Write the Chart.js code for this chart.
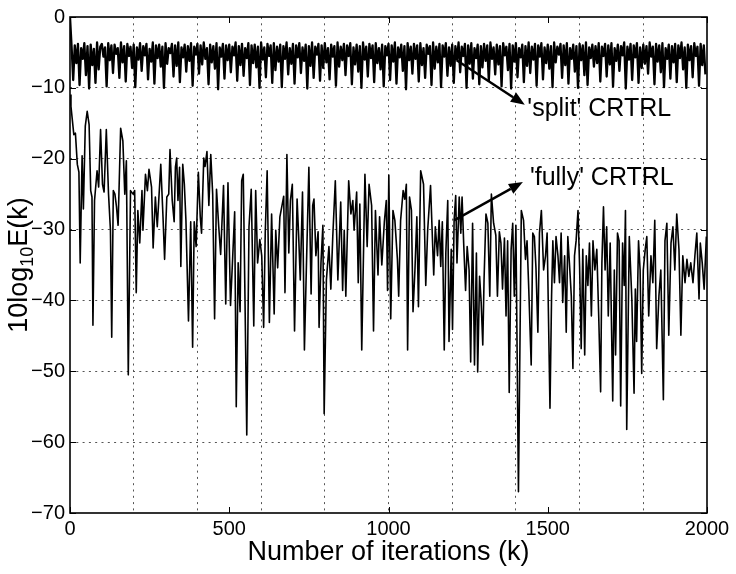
<!DOCTYPE html>
<html>
<head>
<meta charset="utf-8">
<script src="https://cdn.jsdelivr.net/npm/chart.js@4.4.1/dist/chart.umd.min.js"></script>
<style>
  html, body { margin: 0; padding: 0; background: #fff; }
</style>
</head>
<body>
<canvas id="chart" width="736" height="574"></canvas>
<script>
// 'split' CRTRL, one value every 5 iterations (k = 0, 5, 10, ...)
var splitStep = 5;
var splitDb = [
  0, -4.2, -8.9, -4.0, -6.5, -3.8, -9.6, -4.4, -5.9, -3.7, -8.2, -4.1, -10.1, -3.9, -6.8, -4.5, -9.3, -3.6, -7.4, -4.2,
  -3.8, -5.6, -4.3, -9.8, -3.7, -6.1, -4.0, -7.9, -3.9, -5.2, -4.4, -8.6, -3.6, -6.4, -4.1, -9.1, -3.8, -5.5, -4.2, -7.2,
  -3.9, -9.9, -4.3, -6.0, -3.7, -7.6, -4.1, -5.4, -3.8, -8.8, -4.5, -6.3, -3.6, -9.4, -4.0, -5.8, -3.9, -7.0, -4.2, -10.0,
  -3.7, -6.6, -4.4, -5.1, -3.8, -8.4, -4.0, -6.9, -3.6, -9.2, -4.3, -5.7, -3.9, -7.7, -4.1, -6.2, -3.7, -9.7, -4.2, -5.3,
  -3.8, -8.0, -4.0, -6.7, -3.6, -5.9, -4.4, -9.5, -3.9, -6.4, -4.1, -7.3, -3.7, -10.2, -4.3, -5.6, -3.8, -8.7, -4.0, -6.1,
  -3.9, -7.8, -4.2, -5.4, -3.6, -9.0, -4.1, -6.8, -3.8, -8.3, -4.4, -5.8, -3.7, -9.6, -4.0, -6.5, -3.9, -7.1, -4.2, -10.0,
  -3.6, -6.0, -4.3, -8.5, -3.8, -5.5, -4.0, -9.3, -3.7, -7.5, -4.2, -6.3, -3.9, -9.9, -4.1, -5.9, -3.6, -8.1, -4.4, -6.6,
  -3.8, -9.4, -4.0, -5.7, -3.7, -7.9, -4.3, -6.2, -3.9, -10.1, -4.1, -6.9, -3.6, -8.6, -4.2, -5.3, -3.8, -9.0, -4.0, -7.2,
  -3.7, -6.4, -4.4, -8.8, -3.9, -5.6, -4.1, -9.7, -3.6, -7.0, -4.2, -6.1, -3.8, -8.2, -4.0, -5.5, -3.7, -9.5, -4.3, -6.7,
  -3.9, -7.7, -4.1, -10.0, -3.6, -6.0, -4.2, -8.4, -3.8, -5.8, -4.0, -9.2, -3.7, -6.5, -4.4, -7.4, -3.9, -9.8, -4.1, -5.4,
  -3.8, -8.9, -4.0, -6.3, -3.6, -9.4, -4.3, -5.7, -3.9, -7.6, -4.1, -10.2, -3.7, -6.1, -4.2, -8.0, -3.8, -5.9, -4.0, -9.1,
  -3.7, -6.8, -4.4, -8.6, -3.9, -5.2, -4.1, -9.6, -3.6, -7.3, -4.2, -6.4, -3.8, -9.9, -4.0, -5.6, -3.7, -8.3, -4.3, -6.9,
  -3.9, -9.3, -4.1, -6.0, -3.6, -7.8, -4.2, -5.5, -3.8, -10.0, -4.0, -6.6, -3.7, -8.7, -4.4, -5.8, -3.9, -9.5, -4.1, -7.1,
  -3.8, -6.2, -4.0, -9.0, -3.6, -5.9, -4.3, -8.1, -3.9, -6.7, -4.1, -9.8, -3.7, -5.4, -4.2, -7.5, -3.8, -10.1, -4.0, -6.3,
  -3.7, -8.5, -4.4, -5.7, -3.9, -9.2, -4.1, -6.9, -3.6, -7.9, -4.2, -6.0, -3.8, -9.7, -4.0, -5.6, -3.7, -8.8, -4.3, -6.5,
  -3.9, -7.3, -4.1, -9.9, -3.6, -6.4, -4.2, -5.3, -3.8, -8.6, -4.0, -6.8, -3.7, -9.4, -4.4, -5.9, -3.9, -7.7, -4.1, -10.0,
  -3.8, -6.1, -4.0, -8.2, -3.6, -9.6, -4.3, -5.8, -3.9, -7.0, -4.1, -6.5, -3.7, -9.1, -4.2, -5.5, -3.8, -8.4, -4.0, -6.7,
  -3.7, -9.8, -4.4, -6.2, -3.9, -7.6, -4.1, -5.4, -3.6, -10.1, -4.2, -6.0, -3.8, -8.9, -4.0, -5.7, -3.7, -9.3, -4.3, -7.2,
  -3.9, -6.6, -4.1, -8.0, -3.6, -5.6, -4.2, -9.5, -3.8, -6.3, -4.0, -7.8, -3.7, -9.9, -4.4, -5.9, -3.9, -8.7, -4.1, -6.4,
  -3.8, -9.2, -4.0, -5.8, -3.6, -7.4, -4.3, -10.0, -3.9, -6.1, -4.1, -8.5, -3.7, -5.5, -4.2, -9.7, -3.8, -6.8, -4.0, -8.1
];

// 'fully' CRTRL, iteration numbers and values
var fullyIter = [
  0, 3, 12, 17, 23, 28, 32, 38, 42, 48, 54, 60, 65, 69, 72, 77, 85, 90, 96, 102,
  107, 114, 121, 127, 131, 136, 141, 146, 151, 159, 166, 172, 177, 183, 190, 198, 203, 208, 213, 219,
  226, 229, 237, 243, 248, 256, 261, 268, 274, 285, 292, 297, 304, 310, 314, 321, 327, 331, 335, 339,
  344, 348, 354, 359, 364, 372, 379, 385, 390, 396, 403, 409, 413, 420, 424, 430, 436, 442, 448, 454,
  460, 467, 473, 482, 489, 496, 504, 511, 517, 522, 528, 534, 539, 544, 549, 555, 562, 569, 577, 583,
  589, 596, 602, 608, 613, 619, 626, 633, 641, 646, 652, 659, 666, 671, 675, 681, 687, 692, 698, 705,
  713, 718, 723, 730, 736, 742, 750, 757, 762, 766, 772, 779, 782, 788, 794, 798, 805, 813, 819, 825,
  833, 841, 850, 856, 861, 866, 875, 882, 888, 892, 900, 905, 910, 916, 926, 933, 939, 947, 953, 959,
  967, 972, 979, 987, 993, 997, 1001, 1007, 1014, 1020, 1028, 1032, 1038, 1046, 1051, 1056, 1060, 1066, 1072, 1077,
  1083, 1089, 1094, 1101, 1110, 1117, 1123, 1132, 1138, 1142, 1147, 1154, 1159, 1164, 1169, 1175, 1180, 1186, 1190, 1197,
  1201, 1206, 1211, 1215, 1222, 1227, 1231, 1236, 1242, 1247, 1253, 1258, 1264, 1270, 1276, 1280, 1286, 1291, 1296, 1300,
  1306, 1312, 1318, 1323, 1330, 1337, 1342, 1348, 1353, 1358, 1364, 1369, 1374, 1379, 1385, 1390, 1395, 1400, 1408, 1417,
  1424, 1430, 1435, 1440, 1448, 1453, 1458, 1463, 1469, 1474, 1480, 1487, 1493, 1498, 1507, 1512, 1516, 1521, 1526, 1532,
  1537, 1542, 1547, 1553, 1558, 1563, 1568, 1574, 1579, 1584, 1589, 1595, 1600, 1605, 1610, 1616, 1621, 1626, 1631, 1637,
  1642, 1648, 1654, 1660, 1666, 1670, 1675, 1680, 1685, 1690, 1696, 1704, 1709, 1713, 1719, 1724, 1729, 1735, 1740, 1744,
  1748, 1756, 1764, 1771, 1775, 1779, 1785, 1790, 1795, 1800, 1806, 1811, 1817, 1824, 1830, 1836, 1842, 1849, 1855, 1863,
  1868, 1874, 1880, 1887, 1893, 1899, 1905, 1912, 1918, 1924, 1931, 1937, 1943, 1949, 1956, 1962, 1968, 1975, 1979, 1985,
  1991, 1998
];
var fullyDb = [
  -11, -12.6, -16.6, -16.4, -20.8, -21.9, -34.7, -19.6, -27.1, -15.4, -13.3, -15.2, -24.5, -25.4, -43.5, -25.9, -21.7, -24, -15.9, -23.6,
  -24.7, -15.9, -25, -30.1, -45.2, -24.5, -25, -26.8, -29.4, -15.7, -17.5, -25, -20.3, -50.5, -24.5, -25, -24.5, -38.9, -27.3, -31.9,
  -24.5, -30.1, -22.2, -24.5, -21.5, -24, -32.6, -25.4, -29.6, -20.8, -28.2, -34.2, -25.4, -25, -18.7, -25.9, -28.9, -21.2, -19.9, -25.9,
  -21.2, -35.2, -20.8, -23.6, -28.7, -42.9, -28.9, -46.6, -28.9, -32.4, -21.9, -28.2, -30.5, -19.9, -21.1, -19, -26.6, -19.4, -25, -42.6,
  -24.3, -29.6, -33.5, -23.8, -40.5, -23.4, -40.7, -33.7, -27.5, -55, -34.7, -41.6, -23.1, -22.2, -38.4, -59, -29.6, -24.3, -43.6, -24.5,
  -34.7, -31.4, -33.7, -43.8, -30.5, -21.7, -43.1, -27.8, -41.9, -30.1, -35.4, -28.2, -26.5, -25.3, -38.9, -19.4, -33.3, -25.9, -23.6, -44.3,
  -25.7, -31, -37.1, -24.7, -47, -35.7, -21.2, -39.1, -26.6, -25.7, -33.7, -30.3, -43.8, -34.7, -29.4, -56, -37.1, -32.4, -38.4, -31,
  -23.1, -37.1, -26.1, -38.6, -30.1, -39.4, -23.1, -27.8, -25.9, -30.1, -24.7, -37.5, -26.4, -47, -22.2, -32.4, -23.6, -26.6, -44.3, -27.3,
  -36.4, -28.2, -35, -28.9, -25.9, -38.6, -22.3, -42.6, -27.3, -28.7, -34.2, -39.4, -28.7, -24.5, -25.7, -23.6, -47, -25.4, -27.3, -41.6,
  -35.7, -28.2, -40.9, -21.7, -23.6, -37.9, -30.1, -23.8, -31.4, -36.4, -29.6, -33.7, -28.7, -35.2, -28.9, -47, -33.3, -25.9, -45.8, -32.8,
  -44.1, -28.7, -25.2, -34.7, -25.4, -30.5, -25.4, -31.9, -38.6, -32.4, -35.7, -48.7, -29.1, -49.1, -33.3, -50.1, -36.6, -40.3, -46.3, -37.1,
  -27.8, -29.1, -39.4, -25, -29.1, -30.8, -39.4, -30.3, -31.9, -38.4, -31.2, -42.2, -31.6, -53, -32.8, -29.1, -39.4, -29.4, -67, -27.3,
  -28.7, -34.2, -31.6, -37.9, -49.1, -30.5, -31, -35.4, -44.5, -30.5, -27.3, -35.7, -33.7, -30.5, -55.2, -39.4, -31.6, -37.5, -31, -33.7,
  -37.5, -30.5, -40.3, -33.7, -44.5, -31, -34.7, -39.4, -49.6, -33.7, -31.6, -27.3, -35.2, -46.8, -32.8, -47.7, -33.7, -37.9, -31.9, -42.2,
  -31.6, -35.7, -32.8, -42.2, -52.9, -34.7, -26.8, -35.7, -29.6, -42.2, -31.9, -54.2, -35.7, -47.7, -30.5, -31.6, -54.9, -31.9, -37.9, -27.3,
  -58.2, -31, -39.8, -53.1, -38.4, -45.8, -31.6, -35.7, -50.3, -35.7, -32.8, -31, -42.2, -33.7, -37.5, -28.7, -46.8, -39.4, -35.7, -54,
  -31.6, -29.1, -44.9, -31.9, -29.6, -35.7, -27.8, -32.8, -44.9, -33.7, -37.5, -34.2, -36.6, -34.7, -37.5, -33.7, -30.5, -39.8, -31.9, -34.7,
  -38.4, -31
];

// axes
var xMin = 0, xMax = 2000;
var yMin = -70, yMax = 0;
var xLabelTicks = [0, 500, 1000, 1500, 2000];
var xGridTicks = [200, 400, 600, 800, 1000, 1200, 1400, 1600, 1800];
var yTicks = [-70, -60, -50, -40, -30, -20, -10, 0];

// annotations: [text, text k, text dB, arrow from k, from dB, arrow to k, to dB]
var notes = [
  ["'split' CRTRL", 1436, -13.0, 1214, -6.1, 1428, -12.4],
  ["'fully' CRTRL", 1444, -22.7, 1206, -28.7, 1422, -23.3]
];

var FONT = "'Liberation Sans', Arial, Helvetica, sans-serif";

var splitPoints = splitDb.map(function (v, i) { return { x: i * splitStep, y: v }; });
var fullyPoints = fullyIter.map(function (k, i) { return { x: k, y: fullyDb[i] }; });

function fmt(v) {
  return v < 0 ? '\u2212' + Math.abs(v) : String(v);
}

var gridColor = '#555';

var overlay = {
  id: 'overlay',
  afterDraw: function (chart) {
    var ctx = chart.ctx, a = chart.chartArea, xs = chart.scales.x, ys = chart.scales.y;
    ctx.save();

    // inward tick marks, matlab style
    ctx.strokeStyle = '#000';
    ctx.lineWidth = 1;
    ctx.beginPath();
    xLabelTicks.forEach(function (v) {
      var px = Math.round(xs.getPixelForValue(v)) + 0.5;
      ctx.moveTo(px, a.bottom); ctx.lineTo(px, a.bottom - 6);
      ctx.moveTo(px, a.top); ctx.lineTo(px, a.top + 6);
    });
    yTicks.forEach(function (v) {
      var py = Math.round(ys.getPixelForValue(v)) + 0.5;
      ctx.moveTo(a.left, py); ctx.lineTo(a.left + 6, py);
      ctx.moveTo(a.right, py); ctx.lineTo(a.right - 6, py);
    });
    ctx.stroke();

    // box
    ctx.lineWidth = 1.6;
    ctx.strokeRect(a.left, a.top, a.right - a.left, a.bottom - a.top);

    // arrows + labels
    ctx.fillStyle = '#000';
    ctx.lineWidth = 2.4;
    notes.forEach(function (n) {
      var x0 = xs.getPixelForValue(n[3]), y0 = ys.getPixelForValue(n[4]);
      var x1 = xs.getPixelForValue(n[5]), y1 = ys.getPixelForValue(n[6]);
      var ang = Math.atan2(y1 - y0, x1 - x0);
      var len = 14, hw = 5.5;
      var bx = x1 - len * Math.cos(ang), by = y1 - len * Math.sin(ang);
      ctx.beginPath();
      ctx.moveTo(x0, y0); ctx.lineTo(bx, by);
      ctx.stroke();
      ctx.beginPath();
      ctx.moveTo(x1, y1);
      ctx.lineTo(bx + hw * Math.sin(ang), by - hw * Math.cos(ang));
      ctx.lineTo(bx - hw * Math.sin(ang), by + hw * Math.cos(ang));
      ctx.closePath();
      ctx.fill();

      ctx.font = '25px ' + FONT;
      ctx.textAlign = 'left';
      ctx.textBaseline = 'middle';
      ctx.fillText(n[0], xs.getPixelForValue(n[1]), ys.getPixelForValue(n[2]));
    });

    // y axis title with subscript
    var big = '27px ' + FONT, small = '18px ' + FONT;
    ctx.font = big;
    var w1 = ctx.measureText('10log').width;
    var w3 = ctx.measureText('E(k)').width;
    ctx.font = small;
    var w2 = ctx.measureText('10').width;
    var total = w1 + w2 + w3;
    ctx.translate(27, (a.top + a.bottom) / 2);
    ctx.rotate(-Math.PI / 2);
    ctx.textAlign = 'left';
    ctx.textBaseline = 'alphabetic';
    var sx = -total / 2;
    ctx.font = big;
    ctx.fillText('10log', sx, 0);
    ctx.font = small;
    ctx.fillText('10', sx + w1, 6);
    ctx.font = big;
    ctx.fillText('E(k)', sx + w1 + w2, 0);

    ctx.restore();
  }
};

var config = {
  type: 'line',
  data: {
    datasets: [{
      label: "'fully' CRTRL",
      data: fullyPoints,
      borderColor: '#000',
      borderWidth: 1.6,
      pointRadius: 0,
      tension: 0,
      borderJoinStyle: 'round'
    }, {
      label: "'split' CRTRL",
      data: splitPoints,
      borderColor: '#000',
      borderWidth: 2.3,
      pointRadius: 0,
      tension: 0,
      borderJoinStyle: 'round'
    }]
  },
  options: {
    responsive: false,
    animation: false,
    devicePixelRatio: 1,
    layout: { padding: { left: 0, right: 29, top: 11, bottom: 0 } },
    plugins: {
      legend: { display: false },
      tooltip: { enabled: false }
    },
    scales: {
      x: {
        type: 'linear',
        min: xMin,
        max: xMax,
        afterBuildTicks: function (s) {
          var all = xLabelTicks.concat(xGridTicks).filter(function (v, i, arr) { return arr.indexOf(v) === i; });
          all.sort(function (p, q) { return p - q; });
          s.ticks = all.map(function (v) { return { value: v }; });
        },
        afterFit: function (s) { s.height = 61; },
        grid: {
          drawTicks: false,
          lineWidth: 1,
          color: function (c) {
            return (c.tick && xGridTicks.indexOf(c.tick.value) >= 0) ? gridColor : 'rgba(0,0,0,0)';
          }
        },
        border: { display: false, dash: [2, 4.3] },
        ticks: {
          autoSkip: false,
          maxRotation: 0,
          padding: 4,
          color: '#000',
          font: { family: FONT, size: 20 },
          callback: function (v) { return xLabelTicks.indexOf(v) >= 0 ? fmt(v) : ''; }
        },
        title: {
          display: true,
          text: 'Number of iterations (k)',
          color: '#000',
          font: { family: FONT, size: 27 },
          padding: { top: 0, bottom: 5 }
        }
      },
      y: {
        min: yMin,
        max: yMax,
        afterBuildTicks: function (s) {
          s.ticks = yTicks.map(function (v) { return { value: v }; });
        },
        afterFit: function (s) { s.width = 70; },
        grid: {
          drawTicks: false,
          lineWidth: 1,
          color: function (c) {
            return (c.tick && c.tick.value > yMin && c.tick.value < yMax) ? gridColor : 'rgba(0,0,0,0)';
          }
        },
        border: { display: false, dash: [2, 4.3] },
        ticks: {
          padding: 5,
          color: '#000',
          font: { family: FONT, size: 20 },
          callback: function (v) { return fmt(v); }
        }
      }
    }
  },
  plugins: [overlay]
};

window.myChart = new Chart(document.getElementById('chart').getContext('2d'), config);
</script>
</body>
</html>
